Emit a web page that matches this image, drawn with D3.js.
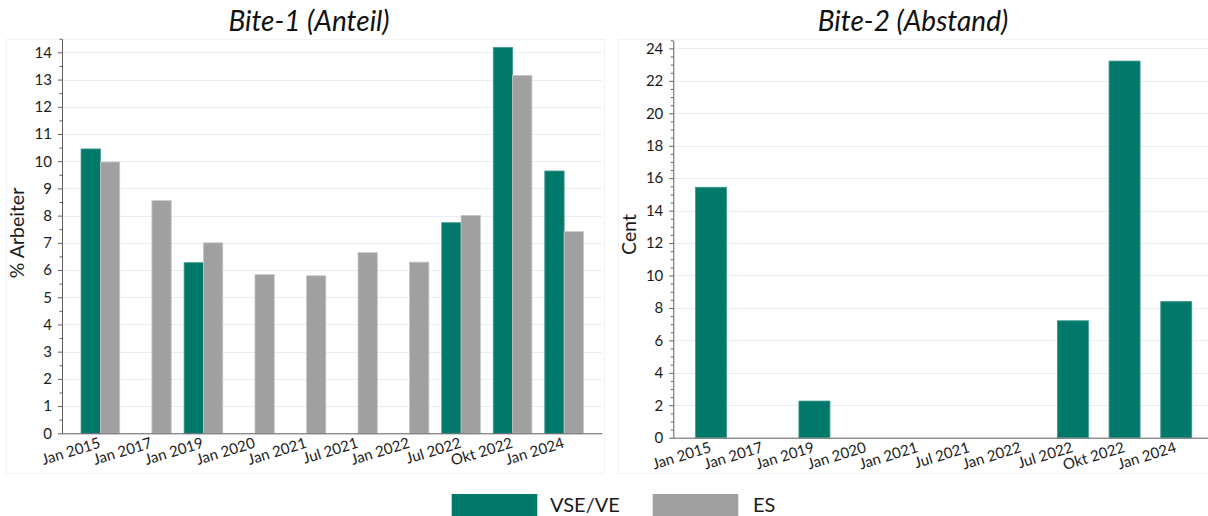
<!DOCTYPE html>
<html>
<head>
<meta charset="utf-8">
<script src="https://cdn.jsdelivr.net/npm/d3@7"></script>
<style>
  html, body { margin: 0; padding: 0; background: #fff; }
  svg { display: block; font-family: Lato, "Open Sans", sans-serif; }
</style>
</head>
<body>
<svg id="chart" width="1208" height="516"></svg>
<script>
// ---- data ----
const categories = ["Jan 2015", "Jan 2017", "Jan 2019", "Jan 2020", "Jan 2021", "Jul 2021", "Jan 2022", "Jul 2022", "Okt 2022", "Jan 2024"];
const seriesNames = ["VSE/VE", "ES"];
const bite1VSE = [10.45, null, 6.27, null, null, null, null, 7.74, 14.18, 9.64];
const bite1ES  = [9.97, 8.55, 7.0, 5.83, 5.79, 6.64, 6.29, 8.01, 13.15, 7.41];
const bite2VSE = [15.44, null, 2.26, null, null, null, null, 7.21, 23.22, 8.39];
const bite1Ticks = [0, 1, 2, 3, 4, 5, 6, 7, 8, 9, 10, 11, 12, 13, 14];
const bite2Ticks = [0, 2, 4, 6, 8, 10, 12, 14, 16, 18, 20, 22, 24];
const titles = ["Bite-1 (Anteil)", "Bite-2 (Abstand)"];
const yLabels = ["% Arbeiter", "Cent"];

const colors = { "VSE/VE": "#00786a", "ES": "#a0a0a0" };
const strokes = { "VSE/VE": "#3f9a8f", "ES": "#c6c6c6" };
const axisColor = "#5e5e5e";
const gridColor = "#e6eef2";
const textColor = "#1b1b1b";

const svg = d3.select("#chart");

function panel(cfg) {
  const g = svg.append("g");
  // faint panel frame
  g.append("rect")
    .attr("x", cfg.frame[0]).attr("y", cfg.frame[1])
    .attr("width", cfg.frame[2]).attr("height", cfg.frame[3])
    .attr("fill", "none").attr("stroke", "#f3f3f3");

  const y = d3.scaleLinear().domain([0, cfg.yMax]).range([cfg.y0, cfg.y0 - cfg.yMax * cfg.unit]);
  const x = d3.scaleBand().domain(categories).range([cfg.x0, cfg.x1])
    .paddingInner(cfg.padIn).paddingOuter(cfg.padOut);

  // grid
  g.append("g").selectAll("line").data(cfg.ticks.filter(t => t > 0)).join("line")
    .attr("x1", cfg.x0).attr("x2", cfg.gridEnd)
    .attr("y1", d => Math.round(y(d)) + 0.5).attr("y2", d => Math.round(y(d)) + 0.5)
    .attr("stroke", gridColor).attr("stroke-width", 1);

  // bars
  const sub = d3.scaleBand().domain(cfg.series.map(s => s.name)).range([0, x.bandwidth()]);
  cfg.series.forEach(s => {
    g.append("g").selectAll("rect")
      .data(categories.map((c, i) => ({ c, v: s.values[i] })).filter(d => d.v != null))
      .join("rect")
      .attr("x", d => x(d.c) + sub(s.name))
      .attr("width", sub.bandwidth())
      .attr("y", d => y(d.v))
      .attr("height", d => y(0) - y(d.v))
      .attr("fill", colors[s.name])
      .attr("stroke", strokes[s.name])
      .attr("stroke-width", 0.8);
  });

  // minor ticks
  const minor = d3.range(0, cfg.yMax + 0.001, 0.5).filter(v => !cfg.ticks.includes(v));
  g.append("g").attr("transform", `translate(${cfg.x0},0)`)
    .call(d3.axisLeft(y).tickValues(minor).tickSize(2.5).tickFormat("").tickSizeOuter(0))
    .call(a => a.select(".domain").remove())
    .call(a => a.selectAll("line").attr("stroke", axisColor));

  // y axis
  g.append("g").attr("transform", `translate(${cfg.x0},0)`)
    .call(d3.axisLeft(y).tickValues(cfg.ticks).tickSize(4).tickPadding(6).tickSizeOuter(0))
    .call(a => a.select(".domain").attr("stroke", axisColor))
    .call(a => a.selectAll("line").attr("stroke", axisColor))
    .call(a => a.selectAll("text").attr("fill", textColor)
      .style("font-size", "15px").style("font-family", "Lato, sans-serif"));

  // x axis
  g.append("g").attr("transform", `translate(0,${cfg.y0})`)
    .call(d3.axisBottom(x).tickSize(0).tickSizeOuter(0).tickFormat(""))
    .call(a => a.select(".domain").attr("stroke", axisColor)
      .attr("d", `M${cfg.x0},0.5H${cfg.x1}`));

  g.append("g").selectAll("text").data(categories).join("text")
    .attr("transform", d => `translate(${x(d) + x.bandwidth() / 2 + 1},${cfg.y0 + 14}) rotate(-17)`)
    .attr("text-anchor", "end")
    .attr("fill", textColor)
    .style("font-size", "15px")
    .text(d => d);

  // title
  g.append("text").attr("x", cfg.titleX).attr("y", 31)
    .attr("text-anchor", "middle").attr("fill", "#111")
    .style("font-size", "28px").style("font-style", "italic")
    .text(cfg.title);

  // y label
  g.append("text")
    .attr("transform", `translate(${cfg.yLabelX},${cfg.yLabelY}) rotate(-90)`)
    .attr("text-anchor", "middle").attr("fill", textColor)
    .style("font-size", "19.5px")
    .text(cfg.yLabel);
}

panel({
  frame: [6.5, 39.5, 598, 434],
  x0: 62, x1: 602.5, gridEnd: 602, y0: 433.3, unit: 27.21, yMax: 14.5,
  padIn: 0.25, padOut: 0.37,
  ticks: bite1Ticks,
  series: [{ name: seriesNames[0], values: bite1VSE }, { name: seriesNames[1], values: bite1ES }],
  title: titles[0], titleX: 309,
  yLabel: yLabels[0], yLabelX: 24, yLabelY: 233
});

panel({
  frame: [618.5, 39.5, 600, 434],
  x0: 673.3, x1: 1214, gridEnd: 1214, y0: 437.7, unit: 16.22, yMax: 24.5,
  padIn: 0.4, padOut: 0.43,
  ticks: bite2Ticks,
  series: [{ name: seriesNames[0], values: bite2VSE }],
  title: titles[1], titleX: 913,
  yLabel: yLabels[1], yLabelX: 636, yLabelY: 234.5
});

// legend
const legend = svg.append("g");
const legendItems = [
  { name: seriesNames[0], x: 451.7, tx: 550 },
  { name: seriesNames[1], x: 652.7, tx: 753 }
];
legendItems.forEach(it => {
  legend.append("rect").attr("x", it.x).attr("y", 494).attr("width", 85.6).attr("height", 24)
    .attr("fill", colors[it.name]);
  legend.append("text").attr("x", it.tx).attr("y", 512).attr("fill", textColor)
    .style("font-size", "20px").text(it.name);
});
</script>
</body>
</html>
